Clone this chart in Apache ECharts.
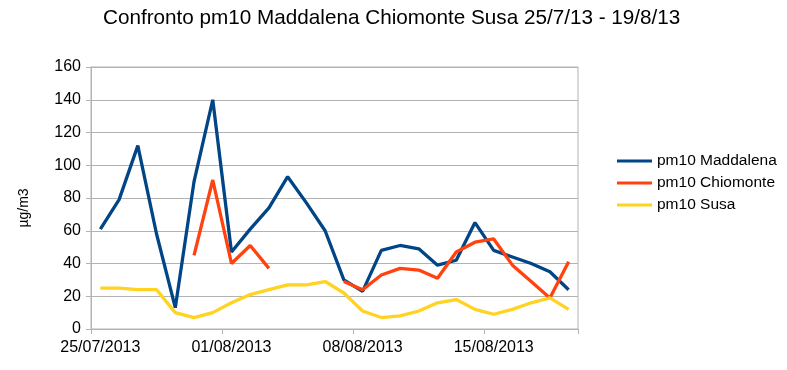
<!DOCTYPE html>
<html>
<head>
<meta charset="utf-8">
<script src="https://cdn.jsdelivr.net/npm/echarts@6/dist/echarts.min.js"></script>
<style>html,body{margin:0;padding:0;background:#fff}#c{width:787px;height:370px}</style>
</head>
<body>
<div id="c"></div>
<script>
const categories = ['25/07/2013','26/07/2013','27/07/2013','28/07/2013','29/07/2013','30/07/2013','31/07/2013',
  '01/08/2013','02/08/2013','03/08/2013','04/08/2013','05/08/2013','06/08/2013','07/08/2013',
  '08/08/2013','09/08/2013','10/08/2013','11/08/2013','12/08/2013','13/08/2013','14/08/2013',
  '15/08/2013','16/08/2013','17/08/2013','18/08/2013','19/08/2013'];
const maddalena = [61, 79, 112, 58, 13, 90, 140, 47, 61, 74, 93, 77, 60, 30, 23, 48, 51, 49, 39, 42, 65, 48, 44, 40, 35, 24];
const chiomonte = [null, null, null, null, null, 45, 91, 40, 51, 37, null, null, null, 29, 24, 33, 37, 36, 31, 47, 53, 55, 39, 29, 19, 41];
const susa = [25, 25, 24, 24, 10, 7, 10, 16, 21, 24, 27, 27, 29, 22, 11, 7, 8, 11, 16, 18, 12, 9, 12, 16, 19, 12];
const yTicks = [0, 20, 40, 60, 80, 100, 120, 140, 160];

const font = 'Liberation Sans, Arial, sans-serif';
const chart = echarts.init(document.getElementById('c'));
chart.setOption({
  animation: false,
  title: {
    text: 'Confronto pm10 Maddalena Chiomonte Susa 25/7/13 - 19/8/13',
    left: 98, top: 3,
    textStyle: {fontFamily: font, fontSize: 20.7, fontWeight: 'normal', color: '#000'}
  },
  legend: {
    orient: 'vertical', left: 612, top: 148,
    itemWidth: 35, itemHeight: 3, itemGap: 6, icon: 'rect',
    textStyle: {fontFamily: font, fontSize: 15.5, lineHeight: 16, color: '#000'},
    data: ['pm10 Maddalena', 'pm10 Chiomonte', 'pm10 Susa']
  },
  grid: {left: 91, right: 209, top: 67, bottom: 41, show: true, borderColor: '#b3b3b3', borderWidth: 1},
  xAxis: {
    type: 'category', data: categories, boundaryGap: true,
    axisLine: {lineStyle: {color: '#b3b3b3'}},
    axisTick: {show: true, interval: 6, length: 5, lineStyle: {color: '#b3b3b3'}},
    axisLabel: {interval: 6, color: '#000', fontFamily: font, fontSize: 16, margin: 11},
    splitLine: {show: false}
  },
  yAxis: {
    type: 'value', min: yTicks[0], max: yTicks[yTicks.length - 1], interval: 20,
    name: 'µg/m3', nameLocation: 'middle', nameGap: 60, nameRotate: 90,
    nameTextStyle: {fontFamily: font, fontSize: 14, color: '#000', padding: [0, 20, 0, 0]},
    axisLine: {show: true, lineStyle: {color: '#b3b3b3'}},
    axisTick: {show: true, length: 5, lineStyle: {color: '#b3b3b3'}},
    axisLabel: {color: '#000', fontFamily: font, fontSize: 16, margin: 10},
    splitLine: {lineStyle: {color: '#b3b3b3'}}
  },
  series: [
    {name: 'pm10 Maddalena', type: 'line', data: maddalena, showSymbol: false, symbol: 'none',
     lineStyle: {color: '#004586', width: 3.3}, itemStyle: {color: '#004586'}},
    {name: 'pm10 Chiomonte', type: 'line', data: chiomonte, showSymbol: false, symbol: 'none', connectNulls: false,
     lineStyle: {color: '#ff420e', width: 3.3}, itemStyle: {color: '#ff420e'}},
    {name: 'pm10 Susa', type: 'line', data: susa, showSymbol: false, symbol: 'none',
     lineStyle: {color: '#ffd320', width: 3.3}, itemStyle: {color: '#ffd320'}}
  ]
});
</script>
</body>
</html>
